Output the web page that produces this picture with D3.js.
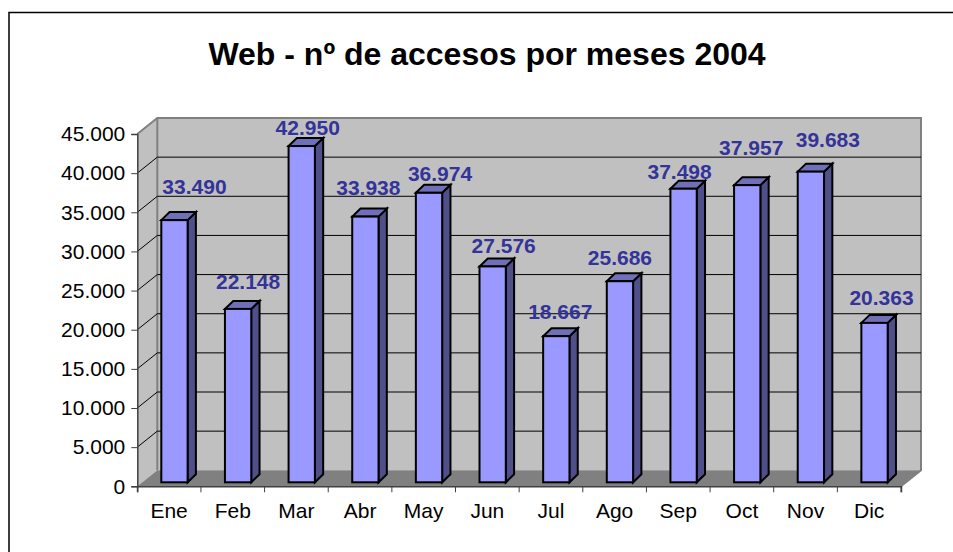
<!DOCTYPE html>
<html><head><meta charset="utf-8">
<script src="https://cdn.jsdelivr.net/npm/d3@7/dist/d3.min.js"></script>
<style>html,body{margin:0;padding:0;background:#fff;overflow:hidden}svg{display:block}
text{font-family:"Liberation Sans",Arial,sans-serif}</style></head><body>
<svg id="c" width="953" height="552"></svg>
<script>
const months = ["Ene","Feb","Mar","Abr","May","Jun","Jul","Ago","Sep","Oct","Nov","Dic"];
const accesos = [33490,22148,42950,33938,36974,27576,18667,25686,37498,37957,39683,20363];
const yTicks = [0,5000,10000,15000,20000,25000,30000,35000,40000,45000];
const chartTitle = "Web - nº de accesos por meses 2004";
// hand placement of each value label relative to its bar top (as in the source chart)
const labelDx = [20,10,6,3,11,11,4,0,-4,4,17,7];
const labelDy = [-26,-20,-11,-22,-12,-13,-17,-16,-10,-30,-25,-18];

const fmt = v => d3.format(",")(v).replace(/,/g,".");
const svg = d3.select("#c");
const L=137.3,R=901,B=486.3,T=134, dx=20, dy=-16;
const x = d3.scaleBand().domain(months).range([L,R]);
const y = d3.scaleLinear().domain([0,45000]).range([B,T]);
const barW=26.3, barInset=24, bdx=8.3, bdy=-8, baseUp=4;

// frame: only the top and left edges fall inside the picture
svg.append("path").attr("d","M953 12.5H9V552").attr("fill","none").attr("stroke","#000").attr("stroke-width",1.5);
svg.append("text").attr("x",487).attr("y",65).attr("text-anchor","middle").attr("font-size",32).attr("font-weight","bold").text(chartTitle);

// walls
svg.append("path").attr("d",`M${L} ${T}L${L+dx} ${T+dy}V${B+dy}L${L} ${B}Z`).attr("fill","#c0c0c0");
svg.append("rect").attr("x",L+dx).attr("y",T+dy).attr("width",R-L).attr("height",B-T).attr("fill","#c0c0c0");
svg.append("path").attr("d",`M${L} ${B}L${L+dx} ${B+dy}H${R+dx}L${R} ${B}Z`).attr("fill","#808080");
svg.append("path").attr("d",`M${L} ${T}L${L+dx} ${T+dy}H${R+dx}V${B+dy}L${R} ${B}`).attr("fill","none").attr("stroke","#808080").attr("stroke-width",2);
svg.append("path").attr("d",`M${L+dx} ${T+dy}V${B+dy}`).attr("stroke","#808080").attr("stroke-width",2);

// gridlines
svg.append("g").selectAll("path").data(yTicks.filter(d=>d>0&&d<45000)).join("path")
 .attr("d",d=>`M${L} ${y(d)}L${L+dx} ${y(d)+dy}H${R+dx}`).attr("fill","none").attr("stroke","#000").attr("stroke-width",1);

// axes
const ay = d3.axisLeft(y).tickValues(yTicks).tickFormat(fmt).tickSize(6).tickPadding(6);
const gy = svg.append("g").attr("transform",`translate(${L},0)`).call(ay);
const ax = d3.axisBottom(x).tickSize(6).tickPadding(7);
const gx = svg.append("g").attr("transform",`translate(0,${B})`).call(ax);
gx.selectAll(".tick line").remove();
gx.append("g").selectAll("line").data(d3.range(months.length+1)).join("line")
 .attr("x1",i=>L+i*x.step()).attr("x2",i=>L+i*x.step()).attr("y1",0).attr("y2",6).attr("stroke","#404040");
[gy,gx].forEach(g=>{g.selectAll("text").attr("font-size",21).attr("fill","#000").style("font-family",'"Liberation Sans",Arial,sans-serif');
 g.selectAll(".domain").attr("stroke","#404040").attr("stroke-width",1.5);g.selectAll(".tick line").attr("stroke","#404040");});
gx.selectAll(".tick text").attr("dy","0.9em");

// bars
const bars = svg.append("g").selectAll("g").data(months.map((m,i)=>({m,v:accesos[i],i}))).join("g");
const bx = d=>x(d.m)+barInset, byTop = d=>y(d.v)-baseUp, byBot = B-baseUp;
const st = s=>s.attr("stroke","#000").attr("stroke-width",2).attr("stroke-linejoin","miter");
bars.append("path").attr("d",d=>`M${bx(d)+barW} ${byTop(d)}l${bdx} ${bdy}V${byBot+bdy}l${-bdx} ${-bdy}Z`).attr("fill","#4f5089").call(st);
bars.append("path").attr("d",d=>`M${bx(d)} ${byTop(d)}l${bdx} ${bdy}h${barW}l${-bdx} ${-bdy}Z`).attr("fill","#7070b8").call(st);
bars.append("rect").attr("x",bx).attr("y",byTop).attr("width",barW).attr("height",d=>byBot-byTop(d)).attr("fill","#9999ff").call(st);

// labels
bars.append("text").attr("x",d=>bx(d)+barW/2+labelDx[d.i]).attr("y",d=>byTop(d)+labelDy[d.i])
 .attr("text-anchor","middle").attr("font-size",21).attr("font-weight","bold").attr("fill","#333399").text(d=>fmt(d.v));
</script></body></html>
